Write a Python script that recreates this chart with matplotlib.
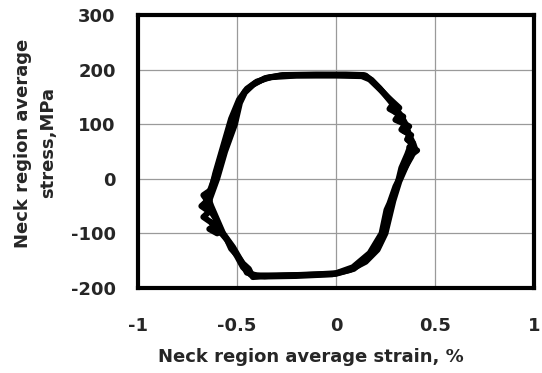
import matplotlib.pyplot as plt

# Hysteresis loops in the neck region: strain (%) vs stress (MPa), three cycles
strain_c1 = [-0.64, -0.62, -0.60, -0.56, -0.51, -0.485, -0.46, -0.42, -0.36, -0.28,
             -0.10, 0.05, 0.15, 0.18, 0.22, 0.29, 0.33, 0.355, 0.37, 0.39, 0.40,
             0.38, 0.34, 0.30, 0.27, 0.255, 0.23, 0.17, 0.085, 0.0, -0.15, -0.30,
             -0.40, -0.45, -0.48, -0.52, -0.57, -0.60, -0.63, -0.64]
stress_c1 = [-40, -20, 0, 50, 100, 139, 158, 172, 184, 189,
             190, 190, 189, 180, 166, 135, 115, 98, 80, 65, 55,
             40, 15, -14, -45, -57, -100, -136, -162, -173, -176, -177,
             -177, -172, -150, -125, -100, -75, -50, -40]

strain_c2 = [-0.66, -0.63, -0.61, -0.57, -0.52, -0.49, -0.46, -0.41, -0.35, -0.27,
             -0.10, 0.05, 0.14, 0.18, 0.23, 0.26, 0.29, 0.32, 0.30, 0.34, 0.33,
             0.37, 0.34, 0.38, 0.36, 0.39, 0.37, 0.41, 0.38, 0.36, 0.32, 0.29,
             0.27, 0.25, 0.21, 0.15, 0.07, -0.02, -0.20, -0.36, -0.43, -0.47,
             -0.50, -0.54, -0.58, -0.61, -0.64, -0.66]
stress_c2 = [-45, -15, 5, 55, 105, 140, 160, 175, 185, 190,
             191, 191, 190, 181, 162, 150, 140, 130, 122, 114, 104,
             96, 88, 80, 72, 65, 58, 52, 44, 28, -5, -40,
             -70, -100, -130, -152, -167, -175, -178, -179, -176, -162,
             -142, -118, -95, -72, -55, -45]

strain_c3 = [-0.63, -0.67, -0.64, -0.68, -0.65, -0.67, -0.63, -0.61, -0.57,
             -0.53, -0.49, -0.45, -0.40, -0.33, -0.20, 0.00, 0.13, 0.17, 0.21,
             0.26, 0.29, 0.27, 0.32, 0.30, 0.35, 0.33, 0.37, 0.36, 0.39, 0.37,
             0.36, 0.33, 0.31, 0.28, 0.265, 0.25, 0.22, 0.16, 0.09, 0.0, -0.18,
             -0.34, -0.42, -0.44, -0.47, -0.50, -0.53, -0.55, -0.59, -0.61,
             -0.60, -0.64, -0.61, -0.63]
stress_c3 = [-80, -70, -60, -50, -40, -30, -20, 10, 60,
             110, 145, 165, 178, 186, 189, 189, 188, 182, 168,
             150, 138, 128, 118, 108, 100, 90, 82, 72, 62, 55,
             45, 20, -10, -40, -60, -80, -120, -145, -165, -174, -176,
             -178, -180, -165, -155, -140, -128, -112, -95, -88,
             -100, -92, -85, -80]

xticks = [-1, -0.5, 0, 0.5, 1]
xtick_labels = ['-1', '-0.5', '0', '0.5', '1']
yticks = [-200, -100, 0, 100, 200, 300]

plt.rcParams['font.family'] = ['DejaVu Sans']
plt.rcParams['axes.unicode_minus'] = False
text_color = '#262626'

fig = plt.figure(figsize=(5.42, 3.73), dpi=100)
ax = fig.add_axes([0.2546, 0.2279, 0.7306, 0.7319])

for sx, sy in [(strain_c1, stress_c1), (strain_c2, stress_c2), (strain_c3, stress_c3)]:
    ax.plot(sx, sy, color='black', linewidth=4.3, solid_joinstyle='round',
            solid_capstyle='round', zorder=3)

ax.set_xlim(-1, 1)
ax.set_ylim(-200, 300)
ax.set_xticks(xticks)
ax.set_xticklabels(xtick_labels)
ax.set_yticks(yticks)
ax.grid(True, color='#9a9a9a', linewidth=0.9, zorder=0)
ax.set_axisbelow(True)

for spine in ax.spines.values():
    spine.set_linewidth(3.0)
    spine.set_color('black')

ax.tick_params(axis='both', length=0, labelsize=13, labelcolor=text_color)
ax.tick_params(axis='x', pad=21)
ax.tick_params(axis='y', pad=16)
for lbl in ax.get_xticklabels() + ax.get_yticklabels():
    lbl.set_fontweight('bold')

# axis titles placed in figure coordinates
fig.text(311 / 542, 1 - 357 / 373, 'Neck region average strain, %', fontsize=13,
         fontweight='bold', color=text_color, ha='center', va='center')
fig.text(57 / 542, 1 - 143 / 373, 'Neck region average\nstress,MPa', fontsize=13,
         fontweight='bold', color=text_color, ha='right', va='center',
         rotation=90, multialignment='center', linespacing=1.5)

fig.savefig('out.png', dpi=100)
